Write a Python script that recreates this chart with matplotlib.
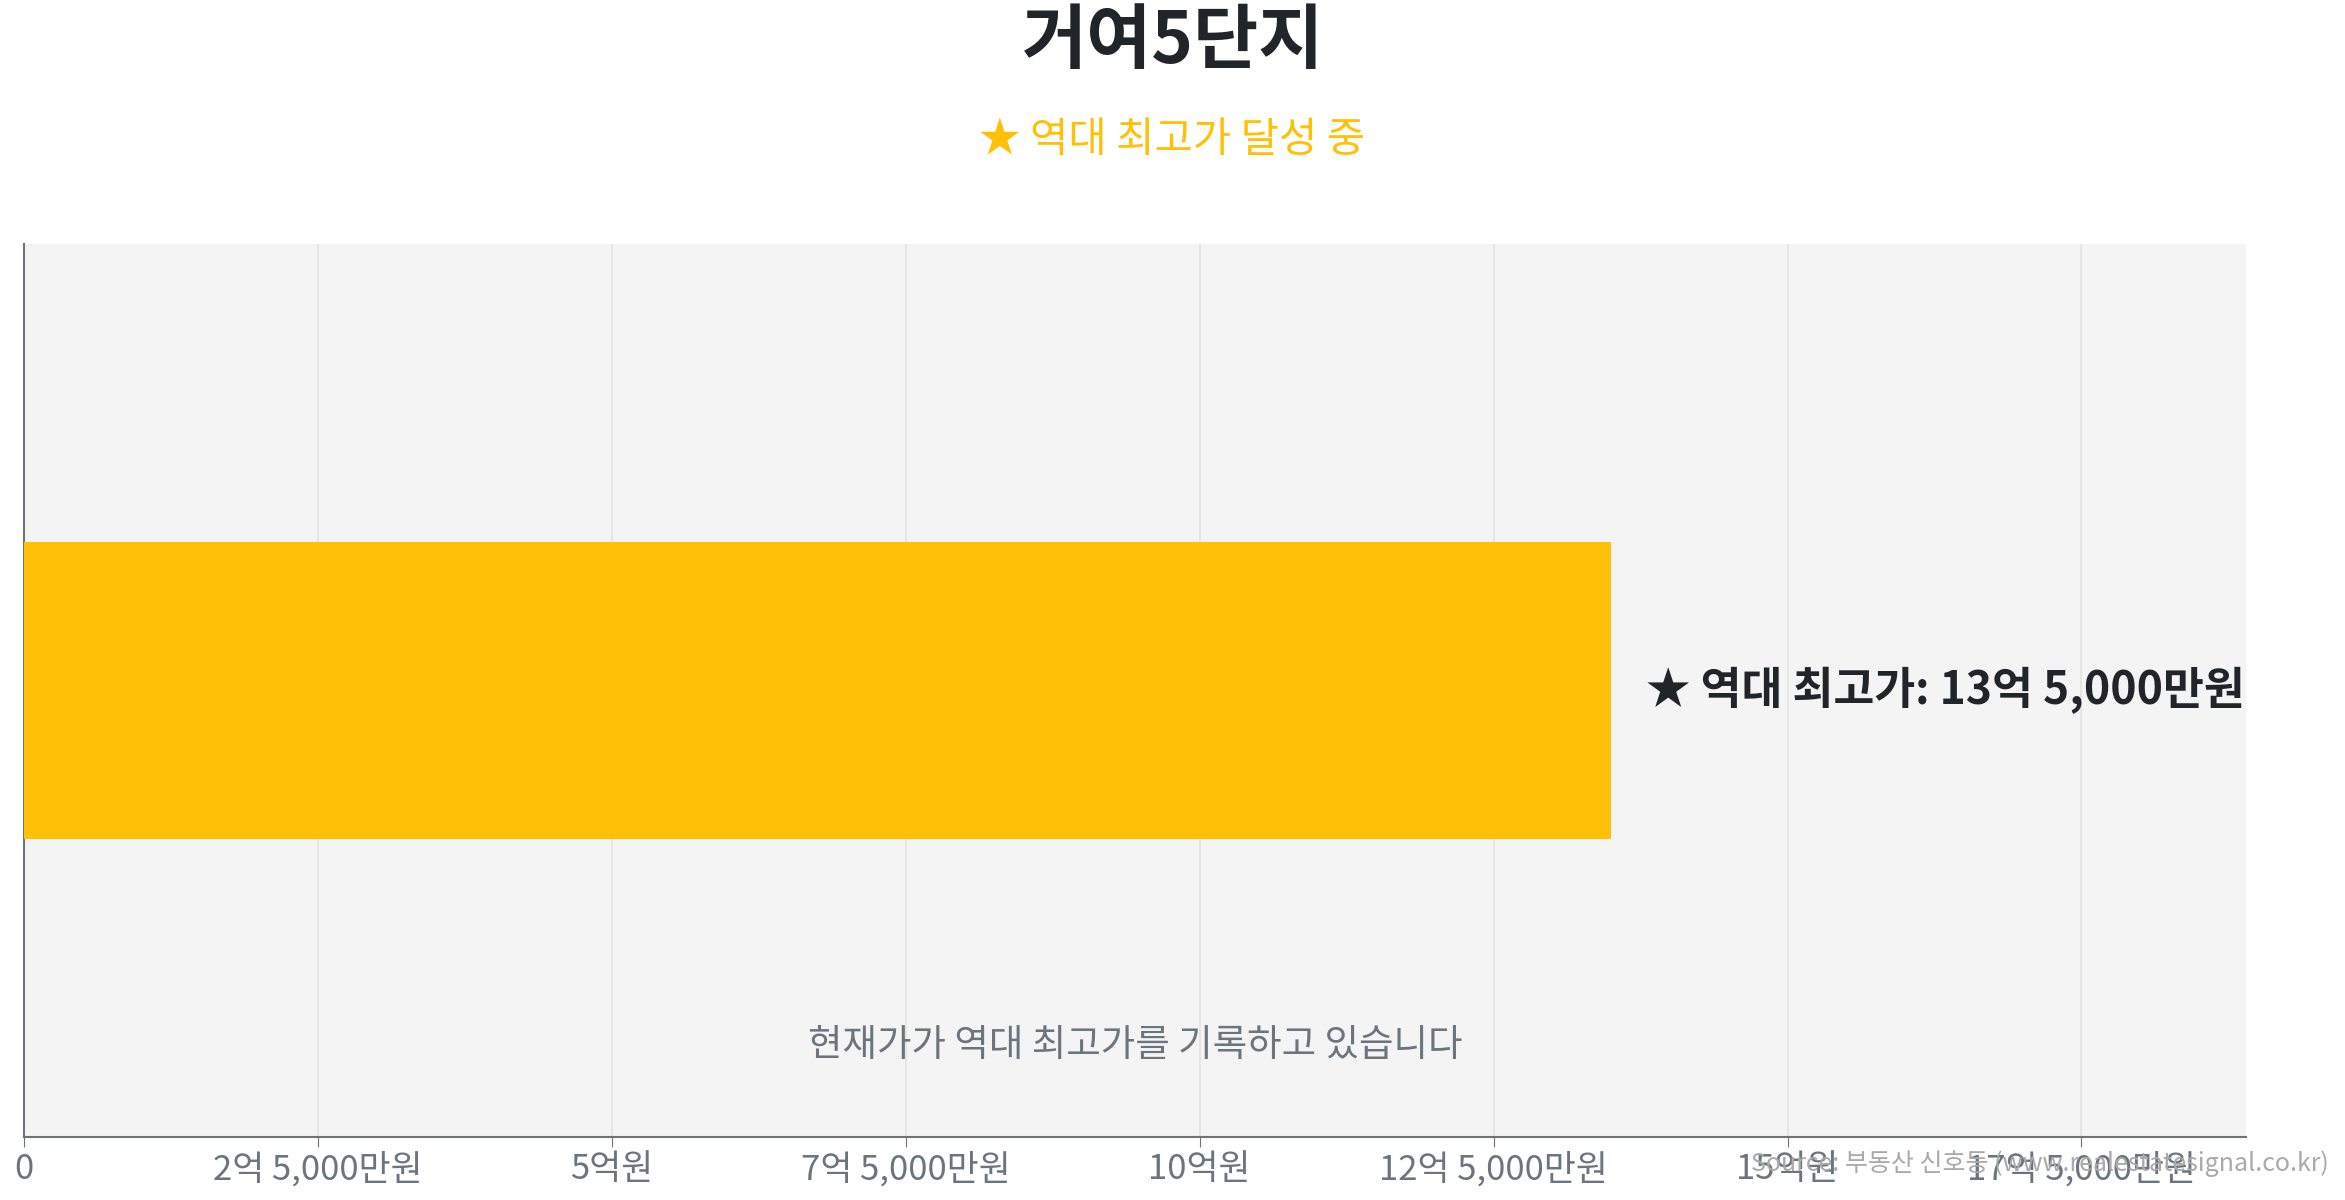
import matplotlib
matplotlib.use("Agg")
import matplotlib.pyplot as plt
import numpy as np

plt.rcParams['font.family'] = ['Noto Sans CJK KR', 'DejaVu Sans']

# data (unit: 억원)
complex_name = "거여5단지"
current_price = 13.5
record_high = 13.5
tick_values = [0, 2.5, 5, 7.5, 10, 12.5, 15, 17.5]


def fmt_price(v):
    eok = int(v)
    man = int(round((v - eok) * 10000))
    if v == 0:
        return "0"
    if man == 0:
        return f"{eok}억원"
    return f"{eok}억 {man:,}만원"


fig = plt.figure(figsize=(23.45, 12), dpi=100)
ax = fig.add_axes([0.0102, 0.0525, 0.9476, 0.7442])
ax.set_facecolor('#f4f4f4')

ax.barh([0], [current_price], height=1.0, color='#FFC107', zorder=3)
ax.set_xlim(0, record_high * 1.4)
ax.set_ylim(-1.5, 1.5)

ax.set_xticks(tick_values)
ax.set_xticklabels([fmt_price(v) for v in tick_values], fontsize=25, color='#6c757d')
ax.set_yticks([])
ax.tick_params(axis='x', length=7, color='#6c757d', pad=4)
ax.grid(axis='x', color='#e3e3e3', linewidth=1.2, zorder=0)

for s in ['top', 'right']:
    ax.spines[s].set_visible(False)
for s in ['left', 'bottom']:
    ax.spines[s].set_color('#6c757d')
    ax.spines[s].set_linewidth(1.5)

ax.annotate(f"★ 역대 최고가: {fmt_price(record_high)}", xy=(current_price, 0),
            xytext=(25, 0), textcoords='offset points', va='center', ha='left',
            fontsize=32, fontweight='bold', color='#212529', zorder=5)

ax.text(0.5, 0.102, "현재가가 역대 최고가를 기록하고 있습니다", transform=ax.transAxes,
        ha='center', va='center', fontsize=27, color='#6c757d')

fig.text(0.5, 0.965, complex_name, ha='center', va='center', fontsize=51,
         fontweight='bold', color='#212529')
fig.text(0.5, 0.883, "★ 역대 최고가 달성 중", ha='center', va='center',
         fontsize=30, color='#FFC107')
fig.text(0.993, 0.030, "Source: 부동산 신호등 (www.realestatesignal.co.kr)",
         ha='right', va='center', fontsize=18, color='#aaaaaa')

fig.savefig("out.png", dpi=100)
